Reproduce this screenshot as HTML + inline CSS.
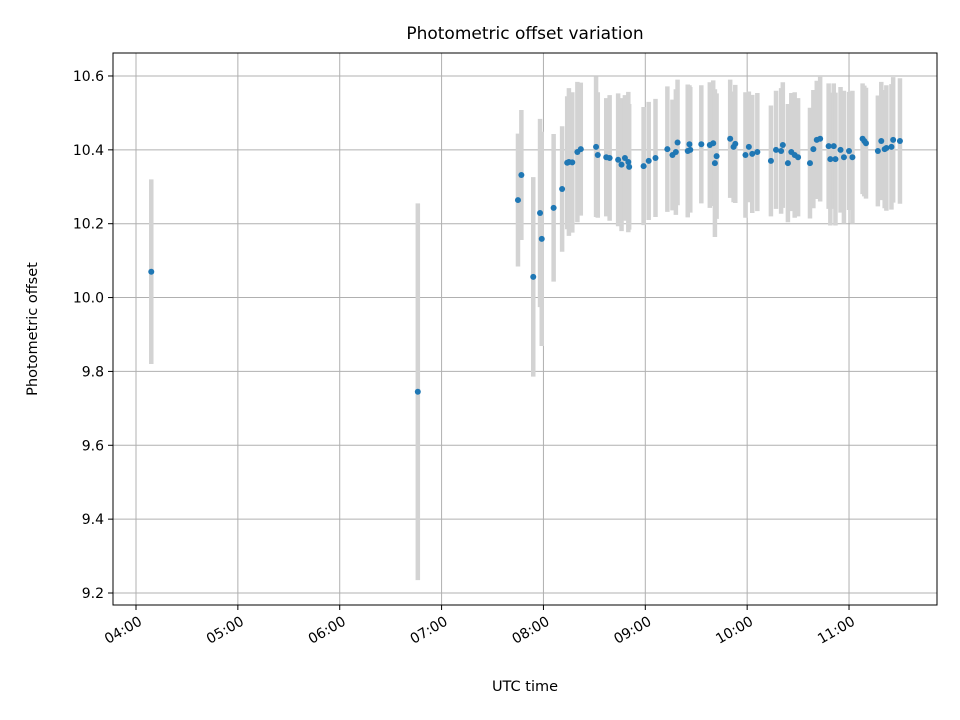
<!DOCTYPE html>
<html><head><meta charset="utf-8"><style>
body{margin:0;background:#fff;}
svg{display:block;font-family:"DejaVu Sans","Liberation Sans",sans-serif;}
</style></head><body>
<svg id="chart" width="960" height="720">
<rect width="960" height="720" fill="#fff"/>
<text x="525" y="39" text-anchor="middle" font-size="17">Photometric offset variation</text>
<g id="grid"></g>
<g id="errs"></g>
<g id="pts"></g>
<rect x="113" y="53" width="824" height="552" fill="none" stroke="#000" stroke-width="1"/>
<g id="axes"></g>
<text x="525" y="691" text-anchor="middle" font-size="14.5">UTC time</text>
<text transform="translate(37,329) rotate(-90)" text-anchor="middle" font-size="14.5">Photometric offset</text>
</svg>
<script>
const times=["04:09","06:46","07:45","07:47","07:54","07:58","07:59","08:06","08:11","08:14","08:15","08:17","08:20","08:22","08:31","08:32","08:37","08:39","08:44","08:46","08:48","08:50","08:50.5","08:59","09:02","09:06","09:13","09:16","09:18","09:19","09:25","09:26","09:26.5","09:33","09:38","09:40","09:41","09:42","09:50","09:52","09:53","09:59","10:01","10:03","10:06","10:14","10:17","10:20","10:21","10:24","10:26","10:28","10:30","10:37","10:39","10:41","10:43","10:48","10:49","10:51","10:52","10:55","10:57","11:00","11:02","11:08","11:09","11:10","11:17","11:19","11:21","11:22","11:25","11:26","11:30"];
const offsets=[10.07,9.745,10.264,10.332,10.056,10.229,10.159,10.243,10.294,10.365,10.367,10.366,10.394,10.402,10.408,10.386,10.38,10.378,10.373,10.36,10.378,10.367,10.354,10.356,10.37,10.378,10.402,10.386,10.394,10.42,10.397,10.415,10.4,10.415,10.413,10.418,10.364,10.383,10.43,10.408,10.416,10.386,10.408,10.389,10.394,10.37,10.4,10.397,10.413,10.364,10.394,10.386,10.38,10.364,10.402,10.427,10.43,10.41,10.375,10.41,10.375,10.4,10.38,10.397,10.38,10.43,10.424,10.418,10.397,10.424,10.402,10.405,10.408,10.427,10.424];
const errors=[0.25,0.51,0.18,0.176,0.27,0.255,0.29,0.2,0.17,0.18,0.2,0.19,0.19,0.18,0.19,0.17,0.16,0.17,0.18,0.18,0.17,0.19,0.17,0.16,0.16,0.16,0.17,0.15,0.17,0.17,0.18,0.16,0.17,0.16,0.17,0.17,0.2,0.17,0.16,0.15,0.16,0.17,0.15,0.16,0.16,0.15,0.16,0.17,0.17,0.16,0.16,0.17,0.16,0.15,0.16,0.16,0.17,0.17,0.18,0.17,0.18,0.17,0.18,0.16,0.18,0.15,0.15,0.15,0.15,0.16,0.16,0.17,0.17,0.17,0.17];
const yTicks=[9.2,9.4,9.6,9.8,10.0,10.2,10.4,10.6];
const xTicks=["04:00","05:00","06:00","07:00","08:00","09:00","10:00","11:00"];
const NS="http://www.w3.org/2000/svg";
function hrs(s){const p=s.split(":");return +p[0]+(+p[1])/60;}
function X(h){return 136+(h-4)*101.86;}
function Y(v){return 593-(v-9.2)*369.3;}
function mk(tag,attrs,parent){const e=document.createElementNS(NS,tag);for(const k in attrs)e.setAttribute(k,attrs[k]);document.getElementById(parent).appendChild(e);return e;}
yTicks.forEach(v=>{
  const y=Y(v);
  const g=mk("line",{x1:113,x2:937,y1:y,y2:y,stroke:"#b0b0b0","stroke-width":1},"grid");
  
  
  const t=mk("line",{x1:108,x2:113,y1:y,y2:y,stroke:"#000"},"axes");
  
  
  const l=mk("text",{x:104,y:y+5,"text-anchor":"end","font-size":"14"},"axes");
  l.textContent=v.toFixed(1);
  
  
});
xTicks.forEach(s=>{
  const x=X(hrs(s));
  const g=mk("line",{x1:x,x2:x,y1:53,y2:605,stroke:"#b0b0b0","stroke-width":1},"grid");
  
  
  const t=mk("line",{x1:x,x2:x,y1:605,y2:610,stroke:"#000"},"axes");
  
  
  const l=mk("text",{x:x+7,y:624,"text-anchor":"end","font-size":"14",transform:`rotate(-30 ${x+7} 624)`},"axes");
  l.textContent=s;
  
  
});
times.forEach((s,i)=>{
  const x=X(hrs(s));
  const b=mk("line",{x1:x,x2:x,y1:Y(offsets[i]+errors[i]),y2:Y(offsets[i]-errors[i]),stroke:"#d3d3d3","stroke-width":4.5},"errs");
  
  
});
times.forEach((s,i)=>{
  const c=mk("circle",{cx:X(hrs(s)),cy:Y(offsets[i]),r:3,fill:"#1f77b4"},"pts");
  
  
});
</script>
</body></html>
